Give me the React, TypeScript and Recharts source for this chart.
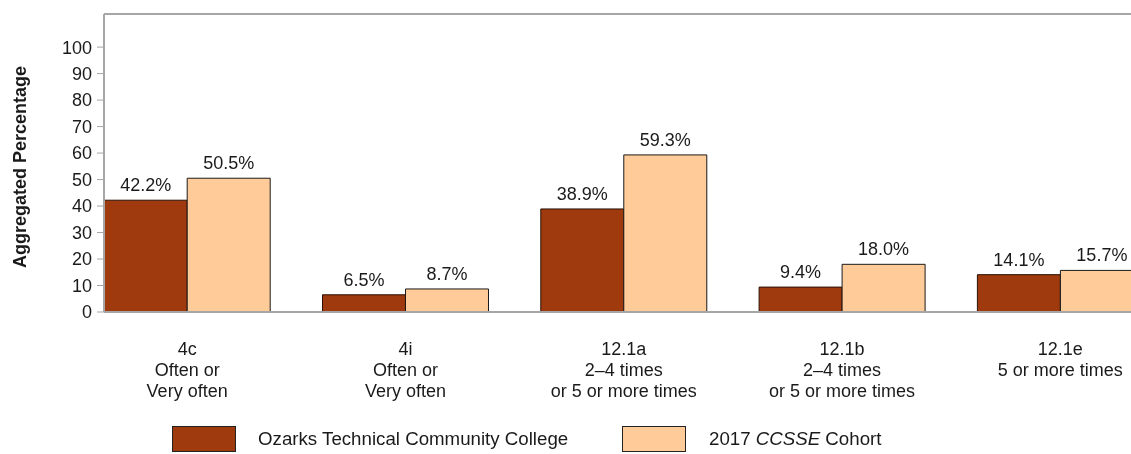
import {
  BarChart,
  Bar,
  XAxis,
  YAxis,
  Legend,
  LabelList,
  ReferenceLine,
} from "recharts";

const categories = ["4c", "4i", "12.1a", "12.1b", "12.1e"];
const categoryNotes = [
  ["Often or", "Very often"],
  ["Often or", "Very often"],
  ["2–4 times", "or 5 or more times"],
  ["2–4 times", "or 5 or more times"],
  ["5 or more times"],
];
const collegeValues = [42.2, 6.5, 38.9, 9.4, 14.1];
const cohortValues = [50.5, 8.7, 59.3, 18.0, 15.7];
const yTicks = [0, 10, 20, 30, 40, 50, 60, 70, 80, 90, 100];

const DARK = "#9e3a0e";
const LIGHT = "#ffcc99";
const AXIS = "#a6a6a6";
const INK = "#1a1a1a";
const FONT = "'Liberation Sans', Arial, sans-serif";

const data = categories.map((c, i) => ({
  name: c,
  lines: [c, ...categoryNotes[i]],
  college: collegeValues[i],
  cohort: cohortValues[i],
}));

function pct(v: number) {
  return `${Number(v).toFixed(1)}%`;
}

function CategoryTick(props: any) {
  const { x, y, index } = props;
  const lines = data[index]?.lines ?? [];
  return (
    <text x={x} y={y} textAnchor="middle" fontSize={18} fill={INK} fontFamily={FONT}>
      {lines.map((l: string, i: number) => (
        <tspan key={i} x={x} dy={i === 0 ? 43 : 21}>
          {l}
        </tspan>
      ))}
    </text>
  );
}

function LegendBox() {
  const swatch = (color: string) => ({
    display: "inline-block",
    width: 64,
    height: 26,
    background: color,
    border: "1px solid #222",
    boxSizing: "border-box" as const,
  });
  return (
    <div
      style={{
        display: "flex",
        alignItems: "center",
        marginLeft: 164,
        height: 40,
        paddingTop: 10,
        boxSizing: "border-box",
        fontFamily: FONT,
        fontSize: 18.7,
        color: INK,
        whiteSpace: "nowrap",
      }}
    >
      <span style={swatch(DARK)} />
      <span style={{ marginLeft: 22, width: 364 }}>Ozarks Technical Community College</span>
      <span style={swatch(LIGHT)} />
      <span style={{ marginLeft: 23 }}>
        2017 <i>CCSSE</i> Cohort
      </span>
    </div>
  );
}

export default function App() {
  // fixed frame so the over-wide chart is clipped at the window edge without scrollbars
  return (
    <div style={{ position: "fixed", left: 0, top: 0, width: 1131, height: 454, overflow: "hidden" }}>
      <div style={{ position: "absolute", left: 8, top: 8 }}>
        <BarChart
          width={1170}
          height={446}
          data={data}
          margin={{ top: 6, right: 8.5, left: 0, bottom: 0 }}
          barCategoryGap="12%"
          barGap={0}
        >
          <XAxis
            dataKey="name"
            height={102}
            padding={{ left: -26, right: 0 }}
            axisLine={{ stroke: AXIS, strokeWidth: 2 }}
            tickLine={false}
            tickSize={0}
            tickMargin={0}
            interval={0}
            tick={<CategoryTick />}
          />
          <YAxis
            width={96}
            domain={[0, 112.5]}
            ticks={yTicks}
            allowDataOverflow
            axisLine={{ stroke: AXIS, strokeWidth: 2 }}
            tickLine={{ stroke: AXIS }}
            tickSize={7}
            tickMargin={5}
            tick={{ fontSize: 18, fill: INK, fontFamily: FONT }}
            label={{
              content: () => (
                <text
                  x={12}
                  y={159}
                  transform="rotate(-90 12 159)"
                  textAnchor="middle"
                  dominantBaseline="central"
                  fontSize={18}
                  fontWeight="bold"
                  fill={INK}
                  fontFamily={FONT}
                >
                  Aggregated Percentage
                </text>
              ),
            }}
          />
          <ReferenceLine y={112.5} stroke={AXIS} strokeWidth={2} ifOverflow="visible" />
          <Legend verticalAlign="bottom" height={40} wrapperStyle={{ left: 0, width: 1170 }} content={<LegendBox />} />
          <Bar dataKey="college" fill={DARK} stroke="#2a1206" strokeWidth={1} isAnimationActive={false}>
            <LabelList
              dataKey="college"
              position="top"
              offset={9}
              formatter={pct}
              style={{ fontSize: 18, fill: INK, fontFamily: FONT }}
            />
          </Bar>
          <Bar dataKey="cohort" fill={LIGHT} stroke={INK} strokeWidth={1} isAnimationActive={false}>
            <LabelList
              dataKey="cohort"
              position="top"
              offset={9}
              formatter={pct}
              style={{ fontSize: 18, fill: INK, fontFamily: FONT }}
            />
          </Bar>
        </BarChart>
      </div>
    </div>
  );
}
